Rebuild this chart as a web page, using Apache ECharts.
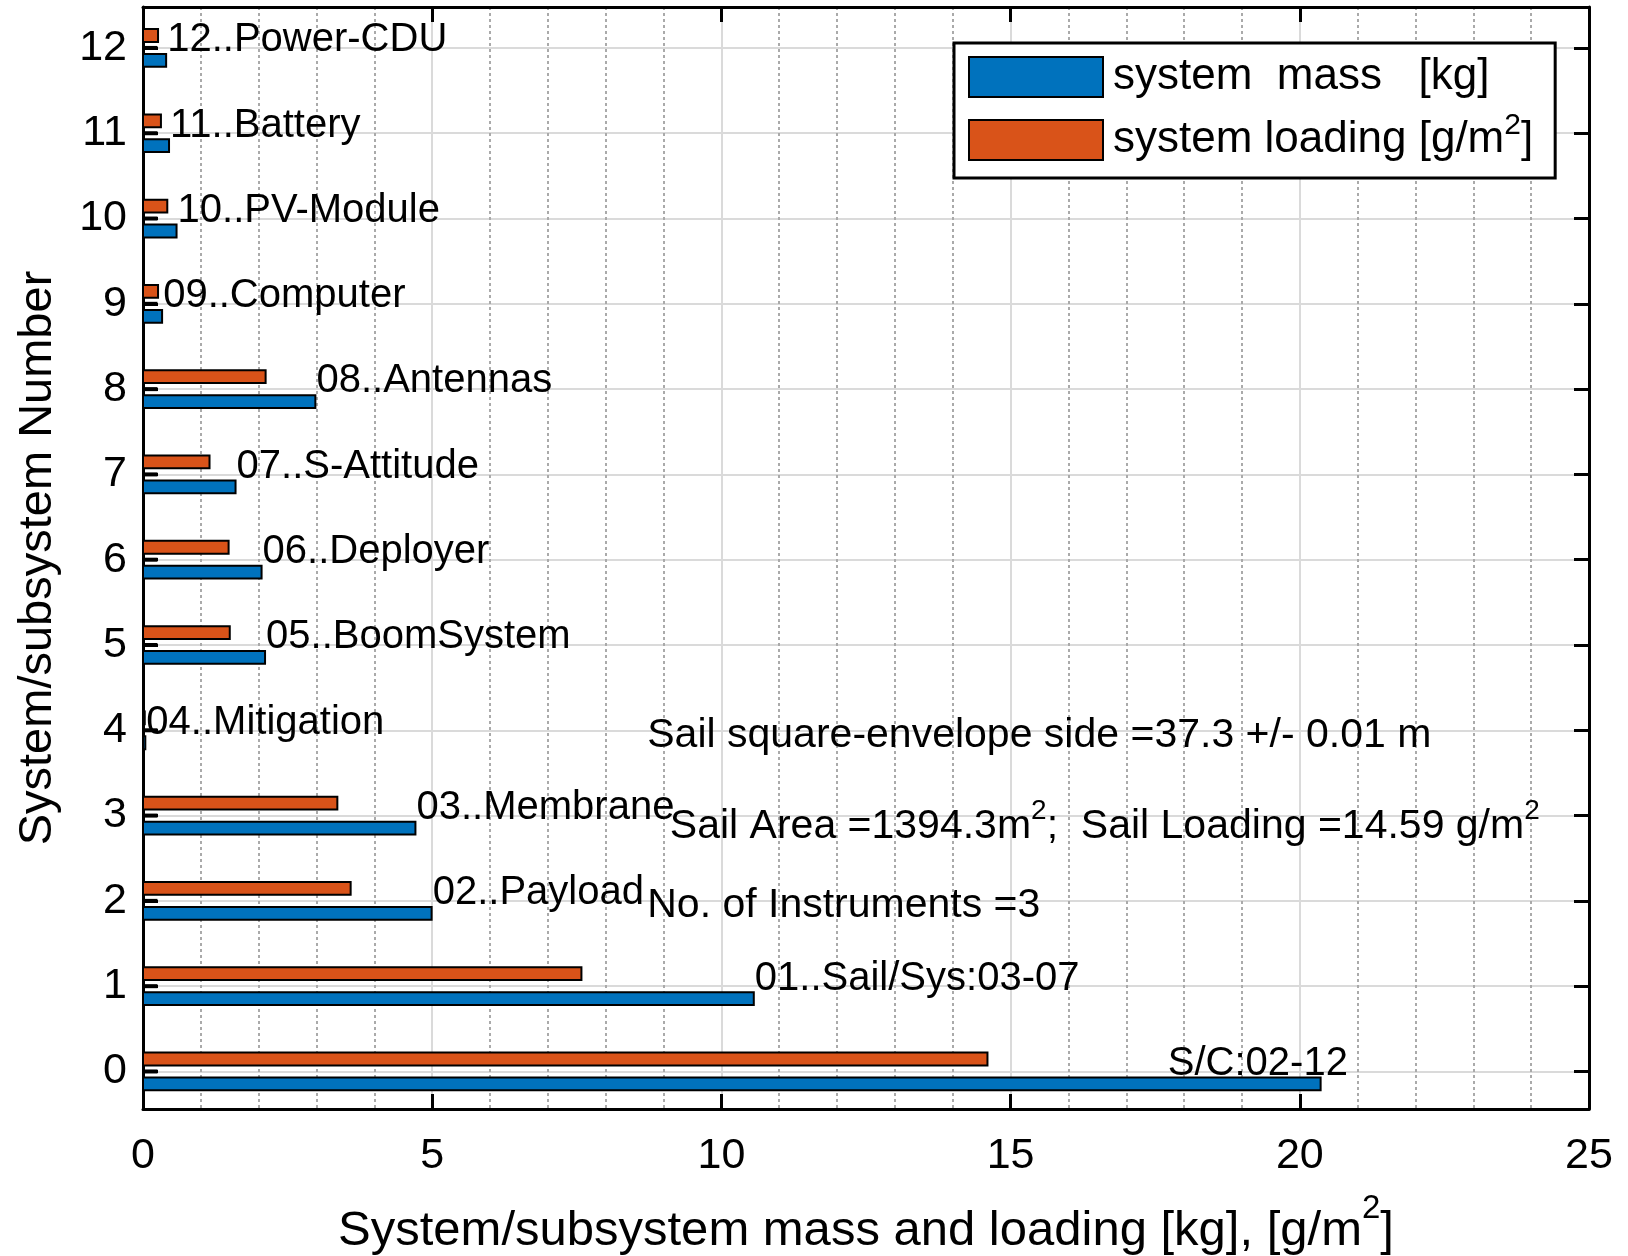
<!DOCTYPE html>
<html>
<head>
<meta charset="utf-8">
<script src="https://cdn.jsdelivr.net/npm/echarts@6/dist/echarts.min.js"></script>
<style>
  html, body { margin: 0; padding: 0; background: #ffffff; }
  #chart { width: 1628px; height: 1256px; }
</style>
</head>
<body>
<div id="chart"></div>
<script>
// System numbers (y ticks) and the subsystem labels written next to each group
const systemNumbers = [0, 1, 2, 3, 4, 5, 6, 7, 8, 9, 10, 11, 12];
const systemNames = [
  'S/C:02-12', '01..Sail/Sys:03-07', '02..Payload', '03..Membrane', '04..Mitigation',
  '05..BoomSystem', '06..Deployer', '07..S-Attitude', '08..Antennas', '09..Computer',
  '10..PV-Module', '11..Battery', '12..Power-CDU'
];
// System mass [kg]
const massKg = [20.36, 10.56, 4.99, 4.71, 0.04, 2.11, 2.05, 1.60, 2.98, 0.33, 0.58, 0.45, 0.40];
// System loading [g/m^2]
const loadingGm2 = [14.60, 7.58, 3.59, 3.36, 0.03, 1.50, 1.48, 1.15, 2.12, 0.26, 0.42, 0.31, 0.26];
// Short black spacer bar drawn between each pair
const spacerValues = [0.25, 0.25, 0.25, 0.25, 0.25, 0.25, 0.25, 0.25, 0.25, 0.25, 0.25, 0.25, 0.25];
// x position of each name label (the end of the mass bar; the S/C label sits further left)
const nameLabelX = [17.7, 10.56, 4.99, 4.71, 0.04, 2.11, 2.05, 1.60, 2.98, 0.33, 0.58, 0.45, 0.40];
const xTicks = [0, 5, 10, 15, 20, 25];
// Summary notes
const sailNotes = [
  'Sail square-envelope side =37.3 +/- 0.01 m',
  'Sail Area =1394.3m{sup|2};  Sail Loading =14.59 g/m{sup|2}',
  'No. of Instruments =3'
];
const sailNoteAnchors = [[8.70, 3.935], [9.09, 2.875], [8.70, 1.94]];

const FONT = "'Liberation Sans', Arial, Helvetica, sans-serif";
const BLUE = '#0072BD';
const ORANGE = '#D95319';
const BAR_THICK = 0.15;     // in y-units
const BAR_OFFSET = 0.146;   // distance of each bar from the group centre
const NAME_OFFSET = 0.09;

function barSeries(name, values, color, offset, thick, stroke) {
  return {
    type: 'custom',
    name: name,
    xAxisIndex: 0,
    yAxisIndex: 0,
    z: 3,
    silent: true,
    data: values.map((v, i) => [v, systemNumbers[i]]),
    encode: { x: 0, y: 1 },
    renderItem: function (params, api) {
      const v = api.value(0);
      const c = api.value(1) + offset;
      const p0 = api.coord([0, c]);
      const p1 = api.coord([v, c]);
      const h = api.size([0, thick])[1];
      return {
        type: 'rect',
        shape: { x: p0[0], y: p0[1] - h / 2, width: Math.max(p1[0] - p0[0], 0.5), height: h },
        style: stroke ? { fill: color, stroke: '#000', lineWidth: stroke } : { fill: color }
      };
    }
  };
}

const supRich = (sup, lift) => ({
  sup: { fontSize: sup, fontFamily: FONT, color: '#000', verticalAlign: 'top', padding: [0, 0, lift, 0] }
});

const chart = echarts.init(document.getElementById('chart'), null, { renderer: 'canvas' });

const textLayer = (name, items, size, rich) => ({
  type: 'scatter',
  name: name,
  xAxisIndex: 0, yAxisIndex: 0,
  z: 5, silent: true,
  symbol: 'circle',
  symbolSize: 0.1,
  itemStyle: { color: '#000', opacity: 1 },
  data: items,
  label: {
    show: true, position: 'right', distance: 1, formatter: '{b}',
    fontFamily: FONT, fontSize: size, color: '#000', opacity: 1,
    textBorderWidth: 0,
    rich: rich
  },
  emphasis: { disabled: true }
});

const option = {
  backgroundColor: '#ffffff',
  animation: false,
  grid: { left: 143, right: 39, top: 7, bottom: 147, containLabel: false, outerBoundsMode: 'none' },
  legend: {
    orient: 'vertical',
    left: 954,
    top: 43,
    itemWidth: 134,
    itemHeight: 40,
    itemGap: 12,
    padding: [12, 22, 16, 14],
    borderColor: '#000',
    borderWidth: 3,
    backgroundColor: '#ffffff',
    z: 10,
    selectedMode: false,
    data: [
      { name: 'system  mass   [kg]', icon: 'rect', itemStyle: { color: BLUE, borderColor: '#000', borderWidth: 2 } },
      { name: 'system loading [g/m2]', icon: 'rect', itemStyle: { color: ORANGE, borderColor: '#000', borderWidth: 2 } }
    ],
    formatter: function (name) {
      return name.replace('m2]', 'm{sup|2}]');
    },
    textStyle: {
      fontFamily: FONT, fontSize: 44, color: '#000', padding: [0, 0, 0, 5],
      rich: supRich(30, 28)
    }
  },
  xAxis: [
    {
      type: 'value', position: 'bottom', min: 0, max: 25, interval: 5,
      name: 'System/subsystem mass and loading [kg], [g/m{sup|2}]',
      nameLocation: 'middle', nameGap: 83,
      nameTextStyle: { fontFamily: FONT, fontSize: 49, color: '#000', rich: supRich(33, 46) },
      axisLine: { show: true, onZero: false, lineStyle: { color: '#000', width: 3 } },
      axisTick: { show: true, inside: true, length: 15, lineStyle: { color: '#000', width: 3 } },
      axisLabel: {
        fontFamily: FONT, fontSize: 43, color: '#000', margin: 26,
        formatter: v => (xTicks.indexOf(v) >= 0 ? String(v) : '')
      },
      splitLine: { show: true, lineStyle: { color: '#dadada', width: 2 } },
      minorTick: { show: false, splitNumber: 5 },
      minorSplitLine: { show: true, lineStyle: { color: '#aaaaaa', width: 2, type: [3, 3] } }
    },
    {
      type: 'value', position: 'top', min: 0, max: 25, interval: 5,
      axisLine: { show: true, onZero: false, lineStyle: { color: '#000', width: 3 } },
      axisTick: { show: true, inside: true, length: 15, lineStyle: { color: '#000', width: 3 } },
      axisLabel: { show: false },
      splitLine: { show: false }
    }
  ],
  yAxis: [
    {
      type: 'value', position: 'left', min: -0.44, max: 12.48,
      name: 'System/subsystem Number',
      nameLocation: 'middle', nameGap: 81, nameRotate: 90,
      nameTextStyle: { fontFamily: FONT, fontSize: 47, color: '#000' },
      axisLine: { show: true, onZero: false, lineStyle: { color: '#000', width: 3 } },
      axisTick: { show: true, inside: true, length: 15, customValues: systemNumbers, lineStyle: { color: '#000', width: 3 } },
      axisLabel: { fontFamily: FONT, fontSize: 43, color: '#000', margin: 16, customValues: systemNumbers },
      splitLine: { show: true, lineStyle: { color: '#dadada', width: 2 } }
    },
    {
      type: 'value', position: 'right', min: -0.44, max: 12.48,
      axisLine: { show: true, onZero: false, lineStyle: { color: '#000', width: 3 } },
      axisTick: { show: true, inside: true, length: 15, customValues: systemNumbers, lineStyle: { color: '#000', width: 3 } },
      axisLabel: { show: false },
      splitLine: { show: false }
    }
  ],
  series: [
    barSeries('system  mass   [kg]', massKg, BLUE, -BAR_OFFSET, BAR_THICK, 2),
    barSeries('system loading [g/m2]', loadingGm2, ORANGE, BAR_OFFSET, BAR_THICK, 2),
    barSeries('spacer', spacerValues, '#000000', 0, 0.047, 0),
    textLayer('names',
      systemNames.map((n, i) => ({ name: n, value: [nameLabelX[i], systemNumbers[i] + NAME_OFFSET] })),
      40, undefined),
    textLayer('notes',
      sailNotes.map((t, i) => ({ name: t, value: sailNoteAnchors[i] })),
      41, supRich(28, 30))
  ]
};

chart.setOption(option);
</script>
</body>
</html>
